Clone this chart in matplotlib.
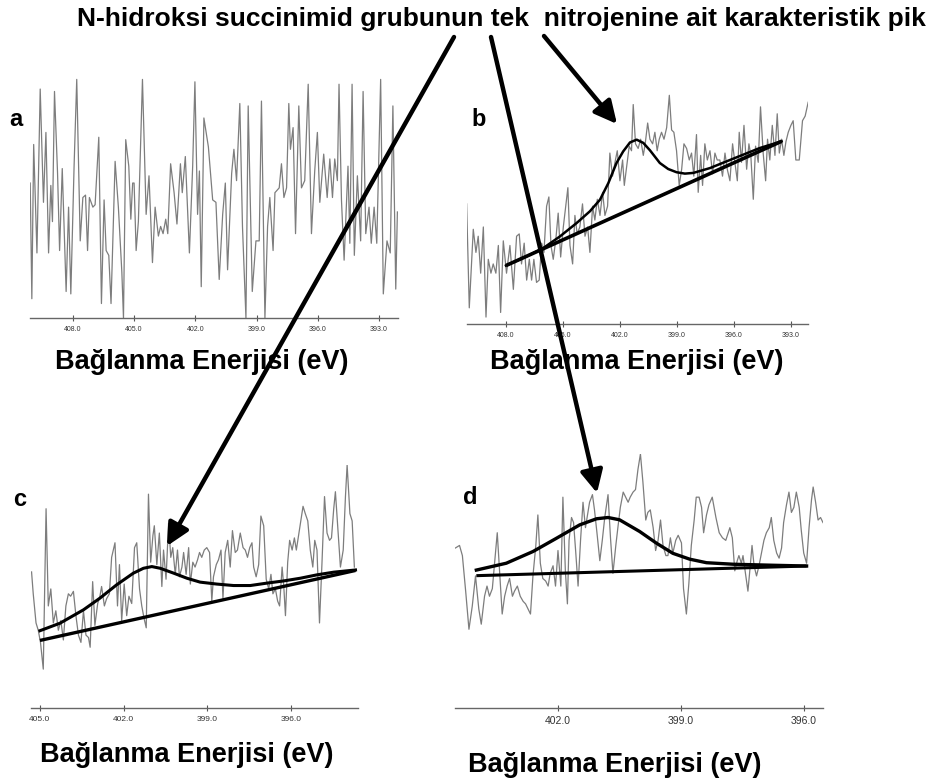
import matplotlib
matplotlib.use("Agg")
import matplotlib.pyplot as plt

plt.rcParams['font.family'] = ['Liberation Sans', 'DejaVu Sans']

# ---------------- data ----------------
E_a = [410.09, 410.01, 409.92, 409.76, 409.60, 409.44, 409.32, 409.19, 409.08, 409.00,
       408.90, 408.75, 408.65, 408.52, 408.33, 408.21, 408.10, 407.94, 407.81, 407.64,
       407.51, 407.38, 407.28, 407.19, 407.02, 406.91, 406.73, 406.60, 406.47, 406.37,
       406.24, 406.13, 405.93, 405.77, 405.60, 405.52, 405.41, 405.26, 405.16, 405.07,
       405.00, 404.90, 404.79, 404.59, 404.41, 404.27, 404.10, 403.97, 403.81, 403.70,
       403.58, 403.45, 403.35, 403.21, 403.04, 402.90, 402.73, 402.64, 402.49, 402.29,
       402.13, 402.02, 401.89, 401.80, 401.71, 401.58, 401.36, 401.15, 400.99, 400.83,
       400.66, 400.53, 400.42, 400.22, 400.11, 399.98, 399.82, 399.69, 399.52, 399.41,
       399.21, 399.03, 398.87, 398.76, 398.59, 398.46, 398.35, 398.19, 398.10, 397.89,
       397.78, 397.66, 397.53, 397.42, 397.34, 397.21, 397.09, 396.93, 396.80, 396.64,
       396.47, 396.31, 396.15, 396.02, 395.90, 395.71, 395.54, 395.41, 395.28, 395.17,
       395.04, 394.96, 394.84, 394.71, 394.52, 394.43, 394.32, 394.21, 394.06, 393.90,
       393.78, 393.65, 393.49, 393.38, 393.24, 393.11, 392.92, 392.79, 392.61, 392.45,
       392.32, 392.18, 392.10]
I_a = [56, 8, 72, 27, 95, 48, 77, 27, 55, 40,
       94, 60, 28, 62, 11, 46, 10, 63, 99, 32,
       50, 51, 28, 50, 46, 47, 75, 6, 49, 28,
       26, 6, 65, 46, 19, 0, 74, 63, 41, 56,
       56, 28, 40, 99, 43, 59, 23, 46, 34, 38,
       35, 41, 35, 64, 52, 39, 64, 52, 67, 27,
       63, 98, 43, 61, 13, 83, 71, 49, 48, 16,
       43, 56, 20, 60, 70, 57, 89, 38, 0, 88,
       11, 32, 32, 90, 0, 38, 50, 28, 52, 54,
       64, 50, 54, 89, 70, 79, 35, 88, 54, 57,
       97, 35, 61, 77, 48, 68, 50, 66, 50, 66,
       57, 97, 49, 24, 63, 31, 97, 26, 59, 32,
       94, 35, 46, 31, 46, 31, 99, 10, 32, 27,
       88, 12, 44]

E_b = [410.07, 409.93, 409.72, 409.58, 409.46, 409.33, 409.19, 409.05, 408.93, 408.79,
       408.67, 408.53, 408.40, 408.28, 408.14, 407.97, 407.79, 407.61, 407.44, 407.30,
       407.18, 407.04, 406.91, 406.77, 406.65, 406.53, 406.39, 406.25, 406.12, 406.00,
       405.86, 405.74, 405.63, 405.51, 405.37, 405.25, 405.12, 404.98, 404.84, 404.74,
       404.63, 404.49, 404.37, 404.25, 404.11, 403.97, 403.84, 403.70, 403.58, 403.44,
       403.32, 403.19, 403.05, 402.91, 402.79, 402.65, 402.53, 402.39, 402.26, 402.14,
       402.00, 401.86, 401.77, 401.65, 401.51, 401.39, 401.30, 401.18, 401.04, 400.91,
       400.77, 400.67, 400.54, 400.42, 400.28, 400.16, 400.04, 399.93, 399.81, 399.68,
       399.54, 399.40, 399.28, 399.16, 399.02, 398.88, 398.75, 398.63, 398.49, 398.35,
       398.23, 398.11, 397.97, 397.88, 397.75, 397.65, 397.53, 397.40, 397.26, 397.12,
       397.00, 396.88, 396.74, 396.60, 396.47, 396.35, 396.21, 396.07, 395.95, 395.82,
       395.72, 395.60, 395.47, 395.33, 395.21, 395.11, 394.98, 394.86, 394.72, 394.60,
       394.46, 394.33, 394.23, 394.11, 393.98, 393.84, 393.72, 393.61, 393.49, 393.37,
       393.26, 393.14, 393.00, 392.88, 392.74, 392.56, 392.39, 392.25, 392.09]
I_b = [52, 7, 41, 31, 38, 22, 42, 3, 28, 22,
       26, 22, 34, 5, 36, 22, 34, 15, 38, 39,
       26, 35, 19, 28, 19, 28, 18, 19, 35, 31,
       51, 55, 34, 28, 37, 48, 29, 42, 52, 59,
       34, 26, 47, 39, 42, 52, 38, 42, 31, 51,
       45, 54, 47, 57, 47, 51, 74, 64, 70, 75,
       62, 71, 60, 68, 77, 75, 95, 78, 76, 80,
       73, 78, 87, 80, 78, 83, 75, 80, 83, 80,
       85, 99, 84, 83, 75, 60, 67, 78, 76, 71,
       74, 64, 82, 57, 73, 60, 78, 71, 75, 65,
       74, 71, 71, 64, 74, 67, 62, 78, 70, 62,
       83, 70, 86, 67, 78, 73, 54, 77, 70, 94,
       74, 62, 80, 71, 86, 73, 91, 74, 80, 73,
       79, 83, 86, 88, 71, 71, 88, 90, 96]
fitE_b = [408.00, 406.91, 406.03, 405.16, 404.28, 403.58, 403.05, 402.61, 402.18, 401.83,
          401.47, 401.12, 400.77, 400.42, 399.90, 399.46, 399.02, 398.58, 398.14, 397.26,
          396.39, 395.51, 394.63, 393.49]
fitI_b = [25.3, 29.3, 32.9, 37.9, 43.7, 48.8, 53.8, 61.0, 69.7, 74.7,
          78.6, 79.8, 78.4, 75.2, 69.7, 67.1, 65.7, 65.1, 65.4, 67.5,
          70.4, 73.3, 76.2, 79.1]
baseE_b = [408.0, 393.49]
baseI_b = [25.3, 79.1]

E_c = [405.30, 405.24, 405.14, 405.06, 404.98, 404.88, 404.78, 404.70, 404.61, 404.52,
       404.43, 404.34, 404.25, 404.16, 404.07, 403.98, 403.90, 403.80, 403.71, 403.62,
       403.53, 403.44, 403.35, 403.26, 403.20, 403.11, 403.03, 402.93, 402.85, 402.79,
       402.69, 402.61, 402.51, 402.43, 402.31, 402.22, 402.15, 402.07, 401.98, 401.89,
       401.81, 401.71, 401.61, 401.53, 401.43, 401.35, 401.27, 401.19, 401.11, 401.03,
       400.95, 400.90, 400.81, 400.72, 400.63, 400.57, 400.48, 400.39, 400.31, 400.24,
       400.15, 400.07, 400.00, 399.91, 399.85, 399.76, 399.67, 399.61, 399.52, 399.44,
       399.35, 399.28, 399.20, 399.11, 399.02, 398.92, 398.84, 398.78, 398.68, 398.60,
       398.51, 398.44, 398.36, 398.27, 398.18, 398.10, 398.00, 397.92, 397.82, 397.72,
       397.64, 397.56, 397.48, 397.40, 397.34, 397.25, 397.16, 397.08, 396.98, 396.89,
       396.80, 396.72, 396.65, 396.56, 396.48, 396.41, 396.32, 396.26, 396.20, 396.12,
       396.05, 395.96, 395.88, 395.81, 395.73, 395.64, 395.57, 395.49, 395.40, 395.31,
       395.22, 395.15, 395.07, 394.98, 394.89, 394.80, 394.71, 394.62, 394.55, 394.47,
       394.41, 394.33, 394.23, 394.13, 394.05, 393.99, 393.89, 393.81, 393.73]
I_c = [56, 47, 35, 32, 27, 16, 82, 42, 49, 35,
       40, 32, 36, 28, 42, 47, 46, 48, 38, 30,
       27, 40, 30, 29, 25, 52, 34, 43, 46, 50,
       42, 45, 47, 62, 68, 42, 59, 36, 51, 38,
       46, 43, 66, 68, 49, 42, 37, 33, 88, 60,
       71, 75, 59, 72, 50, 65, 53, 76, 62, 66,
       55, 65, 54, 58, 64, 55, 66, 51, 60, 58,
       61, 64, 62, 65, 66, 64, 44, 54, 59, 61,
       65, 45, 64, 69, 58, 73, 64, 65, 72, 66,
       65, 62, 66, 68, 58, 54, 59, 79, 75, 53,
       49, 55, 47, 49, 44, 42, 58, 50, 38, 60,
       69, 65, 70, 65, 71, 78, 83, 80, 77, 65,
       58, 69, 65, 35, 60, 87, 72, 69, 70, 82,
       89, 75, 58, 65, 87, 100, 80, 77, 58]
fitE_c = [405.00, 404.28, 403.44, 402.85, 402.25, 401.65, 401.29, 400.99, 400.69, 400.21,
          399.73, 399.26, 398.66, 398.06, 397.46, 396.86, 396.26, 395.67, 395.07, 394.47,
          393.69]
fitI_c = [31.8, 34.9, 40.4, 45.2, 50.7, 55.5, 57.5, 58.2, 57.5, 55.5,
          53.4, 51.8, 51.0, 50.4, 50.4, 51.4, 52.3, 53.4, 54.8, 55.9,
          56.8]
baseE_c = [405.0, 393.69]
baseI_c = [27.8, 56.6]

E_d = [404.50, 404.40, 404.33, 404.25, 404.17, 404.09, 404.01, 403.93, 403.87, 403.79,
       403.73, 403.67, 403.60, 403.54, 403.48, 403.42, 403.36, 403.30, 403.24, 403.18,
       403.11, 403.06, 402.99, 402.92, 402.85, 402.79, 402.73, 402.67, 402.61, 402.54,
       402.49, 402.43, 402.37, 402.30, 402.24, 402.19, 402.12, 402.06, 402.00, 401.93,
       401.88, 401.82, 401.77, 401.73, 401.67, 401.62, 401.57, 401.51, 401.45, 401.39,
       401.33, 401.28, 401.23, 401.16, 401.11, 401.05, 400.98, 400.92, 400.86, 400.78,
       400.72, 400.66, 400.59, 400.54, 400.48, 400.41, 400.35, 400.29, 400.24, 400.17,
       400.11, 400.05, 399.99, 399.93, 399.86, 399.81, 399.75, 399.68, 399.62, 399.56,
       399.50, 399.44, 399.37, 399.32, 399.26, 399.20, 399.13, 399.07, 398.99, 398.94,
       398.87, 398.81, 398.75, 398.68, 398.63, 398.56, 398.50, 398.45, 398.38, 398.32,
       398.24, 398.15, 398.07, 397.99, 397.91, 397.81, 397.75, 397.69, 397.63, 397.59,
       397.53, 397.49, 397.42, 397.37, 397.33, 397.27, 397.22, 397.16, 397.10, 397.04,
       396.98, 396.92, 396.85, 396.80, 396.74, 396.67, 396.61, 396.55, 396.50, 396.43,
       396.37, 396.31, 396.25, 396.19, 396.12, 396.07, 396.01, 395.94, 395.88, 395.82,
       395.78, 395.72, 395.66, 395.60, 395.54]
I_d = [63, 64, 60, 46, 31, 40, 52, 39, 33, 44,
       48, 44, 47, 58, 69, 53, 37, 44, 48, 51,
       44, 46, 48, 44, 42, 41, 39, 37, 52, 64,
       76, 57, 51, 50, 48, 53, 56, 48, 62, 48,
       83, 54, 41, 66, 75, 73, 62, 48, 66, 81,
       71, 76, 81, 84, 78, 69, 58, 66, 75, 84,
       67, 53, 64, 71, 79, 85, 83, 81, 83, 85,
       86, 94, 100, 89, 74, 77, 78, 71, 62, 66,
       74, 64, 60, 60, 67, 61, 66, 68, 65, 47,
       37, 49, 64, 74, 83, 83, 79, 69, 76, 80,
       83, 75, 69, 67, 66, 71, 67, 54, 58, 60,
       57, 60, 52, 46, 53, 64, 56, 52, 56, 61,
       66, 69, 71, 75, 66, 61, 59, 63, 73, 80,
       85, 77, 79, 85, 79, 70, 61, 57, 71, 82,
       87, 81, 74, 75, 73]
fitE_d = [403.99, 403.26, 402.61, 402.04, 401.47, 401.06, 400.78, 400.50, 400.01, 399.60,
          399.20, 398.79, 398.38, 397.73, 396.76, 395.94]
fitI_d = [54.3, 57.0, 61.6, 66.8, 72.1, 74.5, 75.0, 74.1, 69.5, 64.9,
          60.9, 58.6, 57.2, 56.6, 56.2, 55.9]
baseE_d = [403.99, 395.94]
baseI_d = [52.1, 55.9]

ticks_ab = [408.0, 405.0, 402.0, 399.0, 396.0, 393.0]
ticks_c = [405.0, 402.0, 399.0, 396.0]
ticks_d = [402.0, 399.0, 396.0]

title = "N-hidroksi succinimid grubunun tek  nitrojenine ait karakteristik pik"
xlabel = "Bağlanma Enerjisi (eV)"

# ---------------- figure ----------------
W, H = 940, 781
fig = plt.figure(figsize=(W / 100, H / 100), dpi=100)
fig.patch.set_facecolor('white')


def px_axes(left, right, top, bottom):
    return fig.add_axes([left / W, 1 - bottom / H, (right - left) / W, (bottom - top) / H])


def style(ax, xlim, ticks, fs):
    ax.set_xlim(*xlim)
    ax.set_ylim(0, 100)
    for s in ['top', 'right', 'left']:
        ax.spines[s].set_visible(False)
    ax.spines['bottom'].set_color('#666666')
    ax.spines['bottom'].set_linewidth(1.0)
    ax.set_yticks([])
    ax.set_xticks(ticks)
    ax.set_xticklabels([f"{t:.1f}" for t in ticks])
    ax.tick_params(axis='x', direction='inout', length=5, width=0.8, color='#555555',
                   labelsize=fs, labelcolor='#333333', pad=3)
    ax.patch.set_alpha(0)


spec_color = '#7d7d7d'

ax_a = px_axes(30, 398, 77, 318)
ax_a.plot(E_a, I_a, color=spec_color, lw=0.9, clip_on=True)
style(ax_a, (410.1, 392.07), ticks_ab, 5)

ax_b = px_axes(467, 808, 93, 324)
ax_b.plot(E_b, I_b, color=spec_color, lw=0.9)
ax_b.plot(baseE_b, baseI_b, color='black', lw=2.6, solid_capstyle='butt')
ax_b.plot(fitE_b, fitI_b, color='black', lw=1.8, solid_joinstyle='round')
style(ax_b, (410.05, 392.1), ticks_ab, 5)

ax_c = px_axes(31, 358, 465, 708)
ax_c.plot(E_c, I_c, color=spec_color, lw=0.9)
ax_c.plot(baseE_c, baseI_c, color='black', lw=2.4, solid_capstyle='butt')
ax_c.plot(fitE_c, fitI_c, color='black', lw=2.2, solid_joinstyle='round')
style(ax_c, (405.32, 393.6), ticks_c, 6)

ax_d = px_axes(455, 823, 454, 708)
ax_d.plot(E_d, I_d, color=spec_color, lw=0.9)
ax_d.plot(baseE_d, baseI_d, color='black', lw=2.2, solid_capstyle='butt')
ax_d.plot(fitE_d, fitI_d, color='black', lw=2.4, solid_joinstyle='round')
style(ax_d, (404.51, 395.54), ticks_d, 7.5)

# ---------------- overlay: text and arrows in pixel coords ----------------
ov = fig.add_axes([0, 0, 1, 1], zorder=10)
ov.set_xlim(0, W)
ov.set_ylim(H, 0)
ov.axis('off')
ov.patch.set_alpha(0)

ov.text(501, 19, title, ha='center', va='center', fontsize=19, fontweight='bold')

for lab, (x, y) in zip(['a', 'b', 'c', 'd'], [(16, 120), (479, 120), (20, 500), (470, 498)]):
    ov.text(x, y, lab, ha='center', va='center', fontsize=17, fontweight='bold')

for (x, y) in [(202, 362), (637, 362), (187, 755), (615, 765)]:
    ov.text(x, y, xlabel, ha='center', va='center', fontsize=19.5, fontweight='bold')

arrow_kw = dict(arrowstyle='-|>,head_length=0.9,head_width=0.45', lw=3.2, color='black',
                shrinkA=0, shrinkB=0, mutation_scale=15)
for (x0, y0), (x1, y1) in [((454, 37), (167, 546)),
                           ((491, 37), (597, 493)),
                           ((544, 36), (617, 124))]:
    ov.annotate('', xy=(x1, y1), xytext=(x0, y0), arrowprops=arrow_kw)

fig.savefig('out.png', dpi=100, facecolor='white')
